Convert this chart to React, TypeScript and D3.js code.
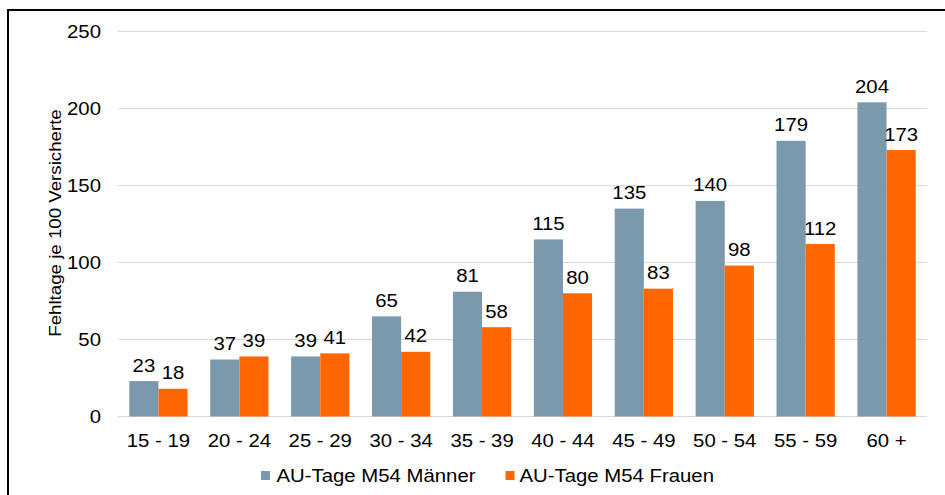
import React from "react";
import * as d3 from "d3";

const categories = ["15 - 19", "20 - 24", "25 - 29", "30 - 34", "35 - 39", "40 - 44", "45 - 49", "50 - 54", "55 - 59", "60 +"];
const maenner = [23, 37, 39, 65, 81, 115, 135, 140, 179, 204];
const frauen = [18, 39, 41, 42, 58, 80, 83, 98, 112, 173];
const yTicks = [0, 50, 100, 150, 200, 250];
const seriesNames = ["AU-Tage M54 Männer", "AU-Tage M54 Frauen"];
const colors = ["#7A99AC", "#FF6600"];

const SX = 1.1;

function T({ x, y, anchor = "start", size = 18.5, rotate = 0, dy, children }: any) {
  return (
    <text
      transform={`translate(${x},${y}) rotate(${rotate}) scale(${SX},1)`}
      textAnchor={anchor}
      fontSize={size}
      dy={dy}
      fill="#000"
    >
      {children}
    </text>
  );
}

export default function App() {
  const W = 945, H = 495;
  const left = 118, right = 927, top = 31.5, bottom = 416.5;
  const x = d3.scaleBand<string>().domain(categories).range([left, right]).paddingInner(0.28).paddingOuter(0.14);
  const y = d3.scaleLinear().domain([0, 250]).range([bottom, top]);
  const bw = x.bandwidth() / 2;
  const font = "'Liberation Sans', Arial, sans-serif";
  const series = [maenner, frauen];
  return (
    <svg width={W} height={H} style={{ position: "absolute", left: 0, top: 0 }} fontFamily={font}>
      <rect width={W} height={H} fill="#fff" />
      <line x1={7} x2={W} y1={10} y2={10} stroke="#000" strokeWidth={2} />
      <line x1={8} x2={8} y1={9} y2={H} stroke="#000" strokeWidth={2} />
      {yTicks.map((t) => (
        <g key={t}>
          <line x1={left} x2={right} y1={y(t)} y2={y(t)} stroke="#D9D9D9" strokeWidth={1} />
          <T x={101} y={y(t) + 6.5} anchor="end">{t}</T>
        </g>
      ))}
      <T x={61} y={(top + bottom) / 2 - 1} anchor="middle" rotate={-90} size={17}>
        Fehltage je 100 Versicherte
      </T>
      {categories.map((c, i) => (
        <g key={c}>
          {series.map((s, k) => {
            const bx = (x(c) as number) + k * bw;
            return (
              <g key={k}>
                <rect x={bx} y={y(s[i])} width={bw} height={bottom - y(s[i])} fill={colors[k]} />
                <T x={bx + bw / 2} y={y(s[i]) - 9.5} anchor="middle">{s[i]}</T>
              </g>
            );
          })}
          <T x={(x(c) as number) + x.bandwidth() / 2} y={447} anchor="middle">{c}</T>
        </g>
      ))}
      {seriesNames.map((n, k) => {
        const lx = k === 0 ? 261 : 505.5;
        return (
          <g key={n}>
            <rect x={lx} y={471} width={9} height={9} fill={colors[k]} />
            <T x={lx + (k === 0 ? 15.5 : 14)} y={482}>{n}</T>
          </g>
        );
      })}
    </svg>
  );
}
